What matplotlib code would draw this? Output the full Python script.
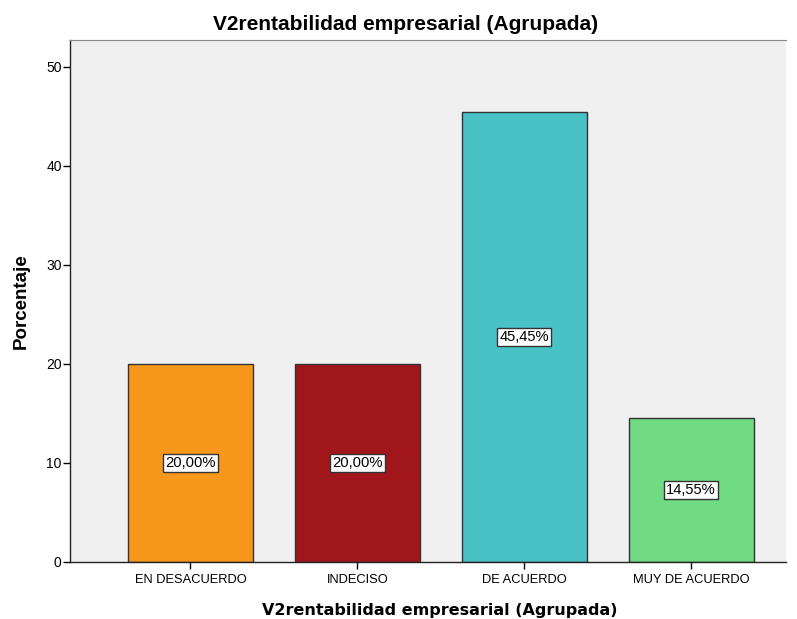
import matplotlib
matplotlib.use("Agg")
import matplotlib.pyplot as plt

categorias = ["EN DESACUERDO", "INDECISO", "DE ACUERDO", "MUY DE ACUERDO"]
porcentajes = [20.00, 20.00, 45.45, 14.55]
etiquetas = ["20,00%", "20,00%", "45,45%", "14,55%"]
colores = ["#F7981D", "#A0161A", "#48C2C5", "#70DB83"]
titulo = "V2rentabilidad empresarial (Agrupada)"

plt.rcParams["font.family"] = ["Liberation Sans", "DejaVu Sans"]

W, H = 797, 619
fig = plt.figure(figsize=(W / 100, H / 100), dpi=100)
ax = fig.add_axes([0.0878, 0.0921, 0.899, 0.8433])
ax.set_facecolor("#F0F0F0")

x = list(range(len(categorias)))
ax.bar(x, porcentajes, width=0.75, color=colores, edgecolor="#333333", linewidth=1.0, zorder=2)

# etiquetas de porcentaje en el centro de cada barra
for xi, v, t in zip(x, porcentajes, etiquetas):
    ax.text(xi, v / 2, t, ha="center", va="center", fontsize=10.6, zorder=3,
            bbox=dict(boxstyle="square,pad=0.15", facecolor="white", edgecolor="#333333", linewidth=1.0))

ax.set_xlim(-0.722, 3.571)
ax.set_ylim(0, 52.7)
ax.set_yticks([0, 10, 20, 30, 40, 50])
ax.set_xticks(x)
ax.set_xticklabels(categorias, fontsize=9.3)
ax.tick_params(axis="y", labelsize=10, length=5, width=1, direction="out", pad=1)
ax.tick_params(axis="x", length=5, width=1, direction="out", pad=4)

for s in ["left", "bottom"]:
    ax.spines[s].set_color("#222222")
    ax.spines[s].set_linewidth(1.0)
ax.spines["top"].set_color("#888888")
ax.spines["right"].set_visible(False)

fig.text(406 / W, 1 - 25 / H, titulo, ha="center", va="center", fontsize=15, fontweight="bold")
fig.text(440 / W, 1 - 610 / H, titulo, ha="center", va="center", fontsize=11.5,
         fontweight="bold", family="DejaVu Sans")
fig.text(21 / W, 1 - 301 / H, "Porcentaje", ha="center", va="center", rotation=90,
         fontsize=13.5, fontweight="bold")

fig.savefig("out.png", dpi=100)
